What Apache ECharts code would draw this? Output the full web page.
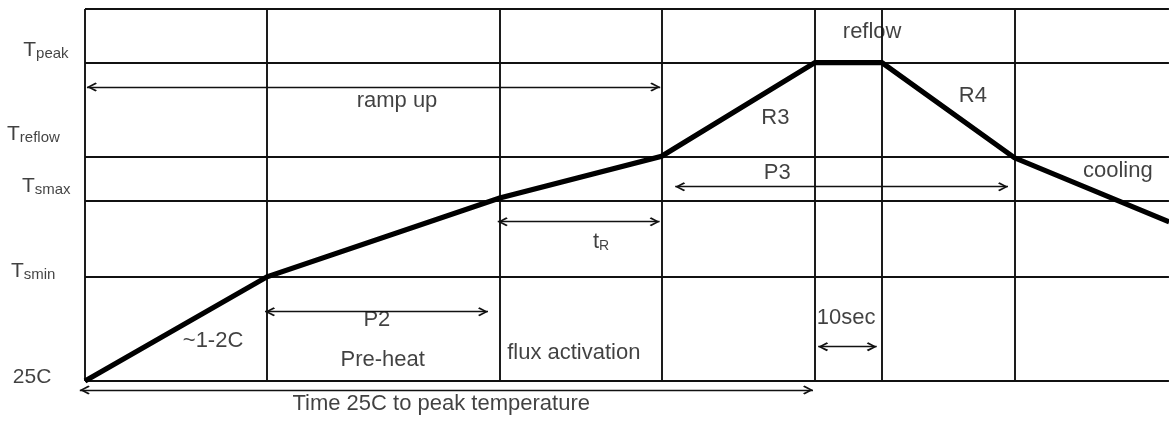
<!DOCTYPE html>
<html><head><meta charset="utf-8">
<script src="https://cdn.jsdelivr.net/npm/echarts@6/dist/echarts.min.js"></script>
<style>html,body{margin:0;padding:0;background:#fff}#c{width:1169px;height:422px}</style>
</head><body><div id="c"></div>
<script>
// ---- data (time in s, temperature in schematic units) ----
const phaseTimes = [0, 28, 63.8, 88.7, 112.3, 122.6, 143];       // vertical phase boundaries
const tempLevels = [25, 95, 146, 176, 239, 275];                 // 25C, Tsmin, Tsmax, Treflow, Tpeak, top
const profileTime = [0, 28, 63.8, 88.7, 112.3, 122.6, 143, 166.8];
const profileTemp = [25, 95, 148, 176, 239, 239, 175, 132];

const levelLabels = ['{T|T}{s|peak}', '{T|T}{s|reflow}', '{T|T}{s|smax}', '{T|T}{s|smin}', '25C'];
const levelLabelX = [-9.5, -12.0, -9.7, -11.4, -11.1];
const levelLabelY = [248.1, 191.7, 156.7, 99.6, 27.7];

const noteText = ['ramp up', 'R3', 'reflow', 'R4', 'P3', 'cooling', '{t|t}{sub|R}', '~1-2C', 'P2',
                  'Pre-heat', 'flux activation', '10sec', 'Time 25C to peak temperature'];
const noteX = [48.0, 106.2, 121.1, 136.6, 106.5, 158.9, 79.4, 19.7, 44.9, 45.8, 75.2, 117.1, 54.8];
const noteY = [213.2, 201.7, 259.5, 216.5, 164.8, 166.1, 119.1, 51.9, 66, 39.1, 43.8, 67.3, 9.5];

const arrowFrom = [[0.3, 222.6], [90.8, 155.6], [63.5, 132.1], [27.7, 71.6], [112.8, 48.1], [-0.8, 19]];
const arrowTo   = [[88.5, 222.6], [142.0, 155.6], [88.4, 132.1], [62.0, 71.6], [121.8, 48.1], [112.0, 19]];

// ---- chart ----
const FONT = '"Liberation Sans", Arial, Helvetica, sans-serif';
const INK = '#111';
const X_MIN = -85 / 6.5, X_MAX = 1084 / 6.5;
const Y_MIN = 0, Y_MAX = 275;

const gridLines = [];
phaseTimes.forEach(t => gridLines.push([{coord: [t, tempLevels[0]]}, {coord: [t, tempLevels[tempLevels.length - 1]]}]));
tempLevels.forEach(v => gridLines.push([{coord: [0, v]}, {coord: [X_MAX - 0.01, v]}]));

const arrowSym = 'path://M5,0 L10,8 L8.6,9.4 L5,3.2 L1.4,9.4 L0,8 Z';
const head = {symbol: arrowSym, symbolSize: [9, 10], symbolOffset: [0, 5]};
const arrowLines = arrowFrom.map((f, i) => [
  Object.assign({coord: f}, head),
  Object.assign({coord: arrowTo[i]}, head)
]);

const chart = echarts.init(document.getElementById('c'), null, {renderer: 'canvas'});
chart.setOption({
  animation: false,
  backgroundColor: '#fff',
  grid: {left: 0, right: 0, top: 9, bottom: 422 - 9 - 275 * 372 / 250},
  xAxis: {type: 'value', min: X_MIN, max: X_MAX, show: false},
  yAxis: {type: 'value', min: Y_MIN, max: Y_MAX, show: false},
  series: [
    {
      type: 'line', data: [], silent: true,
      markLine: {
        silent: true, symbol: ['none', 'none'], animation: false,
        lineStyle: {color: INK, width: 1.9, type: 'solid'},
        label: {show: false},
        data: gridLines
      }
    },
    {
      type: 'line', data: [], silent: true, color: INK,
      markLine: {
        silent: true, animation: false,
        symbol: [arrowSym, arrowSym],
        symbolSize: 10,
        lineStyle: {color: INK, width: 1.4, type: 'solid'},
        itemStyle: {color: INK},
        label: {show: false},
        data: arrowLines
      }
    },
    {
      type: 'line', z: 5, silent: true,
      data: profileTime.map((t, i) => [t, profileTemp[i]]),
      symbol: 'none',
      lineStyle: {color: '#000', width: 5.2, join: 'miter'}
    },
    {
      type: 'scatter', z: 6, silent: true, clip: false, symbolSize: 1,
      itemStyle: {color: 'rgba(0,0,0,0)'},
      data: noteText.map((s, i) => ({name: s, value: [noteX[i], noteY[i]]})),
      label: {
        show: true, position: 'inside', formatter: p => p.name,
        color: INK, fontSize: 22, fontFamily: FONT,
        rich: {
          t: {fontSize: 22, lineHeight: 24, verticalAlign: 'bottom', color: INK, fontFamily: FONT},
          sub: {fontSize: 14, lineHeight: 12, verticalAlign: 'bottom', color: INK, fontFamily: FONT}
        }
      }
    },
    {
      type: 'scatter', z: 6, silent: true, clip: false, symbolSize: 1,
      itemStyle: {color: 'rgba(0,0,0,0)'},
      data: levelLabels.map((s, i) => ({name: s, value: [levelLabelX[i], levelLabelY[i]]})),
      label: {
        show: true, position: 'inside', align: 'left', formatter: p => p.name,
        color: INK, fontSize: 21, fontFamily: FONT,
        rich: {
          T: {fontSize: 21, lineHeight: 24, verticalAlign: 'bottom', color: INK, fontFamily: FONT},
          s: {fontSize: 15, lineHeight: 14, verticalAlign: 'bottom', color: INK, fontFamily: FONT}
        }
      }
    }
  ]
});
</script>
</body></html>
